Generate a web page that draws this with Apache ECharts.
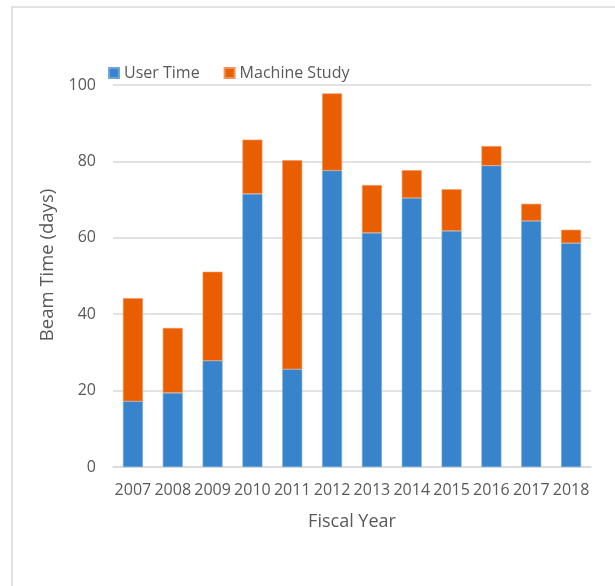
<!DOCTYPE html>
<html><head><meta charset="utf-8">
<script src="https://cdn.jsdelivr.net/npm/echarts@6/dist/echarts.min.js"></script>
<style>html,body{margin:0;padding:0;background:#fff}#c{width:615px;height:586px}</style>
</head><body><div id="c"></div>
<script>
const years = ['2007','2008','2009','2010','2011','2012','2013','2014','2015','2016','2017','2018'];
const userTime = [17.2, 19.4, 27.8, 71.5, 25.6, 77.6, 61.3, 70.4, 61.8, 78.9, 64.4, 58.6];
const machineStudy = [27.0, 17.0, 23.3, 14.2, 54.7, 20.2, 12.5, 7.3, 10.9, 5.1, 4.5, 3.5];
const yTicks = [0, 20, 40, 60, 80, 100];

const font = 'Open Sans';
const chart = echarts.init(document.getElementById('c'));
chart.setOption({
  animation: false,
  textStyle: {fontFamily: font},
  graphic: [{type: 'rect', shape: {x: 12, y: 7, width: 800, height: 800}, style: {fill: 'none', stroke: '#d9d9d9', lineWidth: 1.5}, silent: true, z: -1}],
  legend: {
    left: 103, top: 60, itemWidth: 10, itemHeight: 10, itemGap: 24, icon: 'rect',
    textStyle: {fontFamily: font, fontSize: 16, color: '#595959'},
    data: ['User Time', 'Machine Study']
  },
  grid: {left: 113, right: 24, top: 85, bottom: 119, containLabel: false},
  xAxis: {
    type: 'category', data: years,
    axisTick: {show: false},
    axisLine: {lineStyle: {color: '#d9d9d9', width: 1.5}},
    axisLabel: {color: '#595959', fontSize: 16, margin: 15, interval: 0, fontFamily: font},
    name: 'Fiscal Year', nameLocation: 'middle', nameGap: 46,
    nameTextStyle: {color: '#595959', fontSize: 18, fontFamily: font}
  },
  yAxis: {
    type: 'value', min: yTicks[0], max: yTicks[yTicks.length - 1], interval: 20,
    axisLine: {show: false}, axisTick: {show: false},
    splitLine: {lineStyle: {color: '#d9d9d9', width: 1.5}},
    axisLabel: {color: '#595959', fontSize: 16, margin: 17, fontFamily: font},
    name: 'Beam Time (days)', nameLocation: 'middle', nameGap: 55,
    nameTextStyle: {color: '#595959', fontSize: 18.5, fontFamily: font, padding: [0, 0, 0, 22]}
  },
  series: [
    {name: 'User Time', type: 'bar', stack: 'a', data: userTime, barWidth: '50%',
     itemStyle: {color: '#3784cc', borderColor: '#6fa7dc', borderWidth: 0.6}},
    {name: 'Machine Study', type: 'bar', stack: 'a', data: machineStudy, barWidth: '50%',
     itemStyle: {color: '#e95e00', borderColor: '#f2935a', borderWidth: 0.6}}
  ]
});
</script></body></html>
